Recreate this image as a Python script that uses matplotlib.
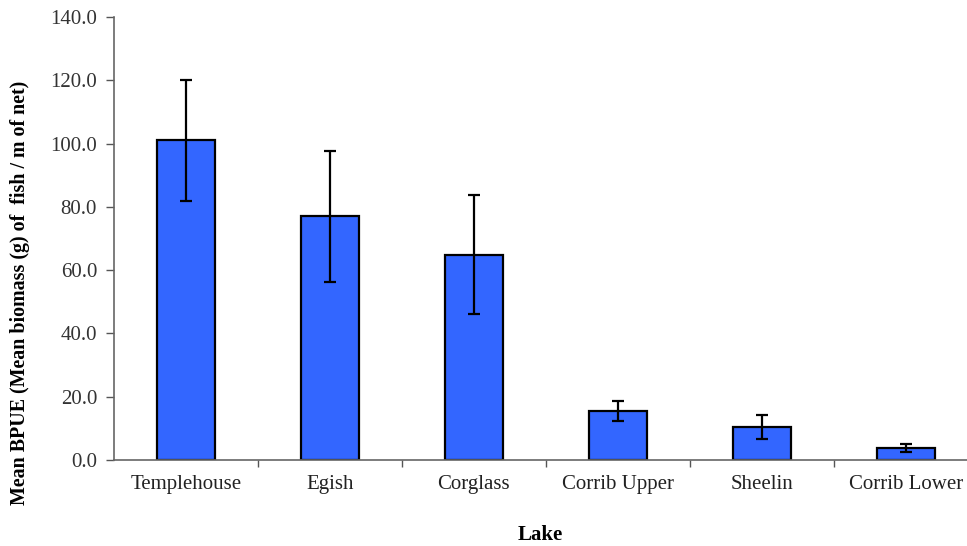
import matplotlib
matplotlib.use("Agg")
import matplotlib.pyplot as plt
import numpy as np

lakes = ["Templehouse", "Egish", "Corglass", "Corrib Upper", "Sheelin", "Corrib Lower"]
mean_bpue = [101.0, 77.0, 64.9, 15.4, 10.5, 3.8]
err = [19.2, 20.8, 18.9, 3.2, 3.8, 1.4]
yticks = [0, 20, 40, 60, 80, 100, 120, 140]

plt.rcParams['font.family'] = ['Liberation Serif', 'DejaVu Serif']

W, H = 967, 546
fig = plt.figure(figsize=(W/100, H/100), dpi=100)
left, right, top, bottom = 113.7, 967, 17, 460
ax = fig.add_axes([left/W, 1 - bottom/H, (right-left)/W, (bottom-top)/H])

x = np.arange(len(lakes))
ax.bar(x, mean_bpue, width=0.4, color='#3366FF', edgecolor='black', linewidth=1.6, zorder=2)
ax.errorbar(x, mean_bpue, yerr=err, fmt='none', ecolor='black', elinewidth=1.6,
            capsize=4, capthick=1.6, zorder=3)

cat_w = 144.0
ax.set_xlim(-0.5, -0.5 + (right-left)/cat_w)
ax.set_ylim(0, 140)
ax.set_yticks(yticks)
ax.set_yticklabels([f"{v:.1f}" for v in yticks], fontsize=15, color='#333333')
ax.set_xticks(np.arange(0.5, len(lakes)-0.5, 1.0))
ax.set_xticklabels([])
ax.set_xticks(x, minor=True)
ax.set_xticklabels(lakes, minor=True, fontsize=15, color='#222222')
ax.tick_params(axis='x', which='minor', length=0, pad=11)
ax.tick_params(axis='x', which='major', length=5, direction='out', color='#555555', width=1)
ax.tick_params(axis='y', length=6, direction='out', color='#555555', width=1, pad=6)

for s in ['top', 'right']:
    ax.spines[s].set_visible(False)
for s in ['left', 'bottom']:
    ax.spines[s].set_color('#666666')
    ax.spines[s].set_linewidth(1.2)

fig.text(540/W, 1 - 535/H, "Lake", ha='center', va='center', fontsize=15, fontweight='bold')
fig.text(20/W, 1 - 293/H, "Mean BPUE (Mean biomass (g) of  fish / m of net)", ha='center', va='center',
         rotation=90, fontsize=14.4, fontweight='bold')

fig.savefig("out.png", dpi=100)
